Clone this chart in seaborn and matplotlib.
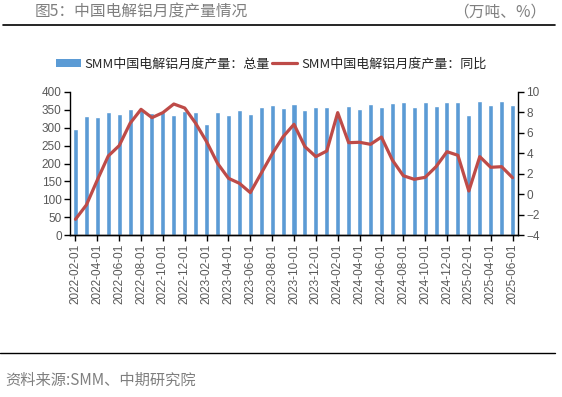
import numpy as np
import pandas as pd
import matplotlib
matplotlib.use("Agg")
import matplotlib.pyplot as plt
from matplotlib.lines import Line2D
from matplotlib.patches import Patch
import seaborn as sns

# --- data ---
months = pd.date_range("2022-02-01", "2025-06-01", freq="MS").strftime("%Y-%m-%d").tolist()

total = [296, 332, 329, 343, 339, 352, 349, 340, 343, 336,
         346, 343, 311, 343, 335, 349, 339, 357, 363, 354,
         366, 349, 357, 357, 338, 360, 352, 366, 357, 369,
         371, 357, 371, 360, 371, 371, 335, 374, 363, 374, 363]

yoy = [-2.44, -1.04, 1.39, 3.73, 4.74, 6.92, 8.28, 7.47, 7.96, 8.80,
       8.41, 6.92, 5.13, 3.02, 1.56, 1.07, 0.16, 2.05, 3.93, 5.61,
       6.82, 4.64, 3.67, 4.22, 7.96, 5.03, 5.07, 4.87, 5.58, 3.34,
       1.81, 1.46, 1.65, 2.69, 4.15, 3.80, 0.32, 3.67, 2.63, 2.69, 1.62]

label_total = "SMM中国电解铝月度产量：总量"
label_yoy = "SMM中国电解铝月度产量：同比"

df = pd.DataFrame({"month": months, "total": total, "yoy": yoy})
df["pos"] = np.arange(len(df))

BLUE = "#5B9BD5"
RED = "#BE4B48"
GRAY = "#595959"

sns.set_style("white")
plt.rcParams["font.family"] = ["Liberation Sans", "Noto Sans CJK SC", "DejaVu Sans"]
plt.rcParams["axes.unicode_minus"] = True

fig = plt.figure(figsize=(5.62, 3.97), dpi=100)
ax = fig.add_axes([70 / 562, 1 - 235.3 / 397, 448 / 562, 143.6 / 397])

# bars (left axis)
sns.barplot(data=df, x="month", y="total", color=BLUE, saturation=1,
            width=0.46, ax=ax)
ax.set_ylim(0, 400)
ax.set_yticks(range(0, 401, 50))
ax.set_xlim(-0.5, len(df) - 0.5)
ax.set_xlabel("")
ax.set_ylabel("")

# line (right axis)
ax2 = ax.twinx()
sns.lineplot(data=df, x="pos", y="yoy", color=RED, linewidth=2.3, ax=ax2)
ax2.set_ylim(-4, 10)
ax2.set_yticks(range(-4, 11, 2))
ax2.set_xlim(-0.5, len(df) - 0.5)
ax2.set_xlabel("")
ax2.set_ylabel("")

# x ticks every two months
ax.set_xticks(df["pos"][::2])
ax.set_xticklabels(df["month"][::2], rotation=90)

for a in (ax, ax2):
    for s in a.spines.values():
        s.set_color("black")
        s.set_linewidth(1.0)
    a.spines["top"].set_visible(False)
    a.tick_params(axis="both", colors="black", labelcolor=GRAY, labelsize=8.5,
                  direction="out", length=4, width=1)
ax.spines["right"].set_visible(False)
ax2.spines["left"].set_visible(False)
ax.tick_params(axis="y", left=True, pad=2)
ax2.tick_params(axis="y", right=True, pad=2)
ax.tick_params(axis="x", bottom=True, pad=2)

# legend
handles = [Patch(facecolor=BLUE, edgecolor="none"),
           Line2D([0], [0], color=RED, linewidth=2.3)]
fig.legend(handles, [label_total, label_yoy], ncol=2, frameon=False,
           loc="center", bbox_to_anchor=(271 / 562, 1 - 64 / 397),
           handlelength=1.9, handleheight=0.5,
           handletextpad=0.3, columnspacing=0.2,
           prop={"family": ["Noto Sans CJK SC"], "size": 9.4})

# header / footer
fig.text(35 / 562, 1 - 12 / 397, "图5：中国电解铝月度产量情况", fontsize=11.3,
         color="#7F7F7F", va="center", ha="left", family=["Noto Sans CJK SC"])
fig.text(546 / 562, 1 - 12 / 397, "（万吨、%）", fontsize=11.3,
         color="#7F7F7F", va="center", ha="right", family=["Noto Sans CJK SC"])
fig.add_artist(Line2D([3 / 562, 555 / 562], [1 - 25 / 397, 1 - 25 / 397],
                      color="black", linewidth=1.2))
fig.add_artist(Line2D([0, 555 / 562], [1 - 353 / 397, 1 - 353 / 397],
                      color="black", linewidth=1.0))
fig.text(5 / 562, 1 - 380 / 397, "资料来源:SMM、中期研究院", fontsize=11,
         color="#7F7F7F", va="center", ha="left", family=["Noto Sans CJK SC"])

fig.savefig("out.png", dpi=100, facecolor="white")
